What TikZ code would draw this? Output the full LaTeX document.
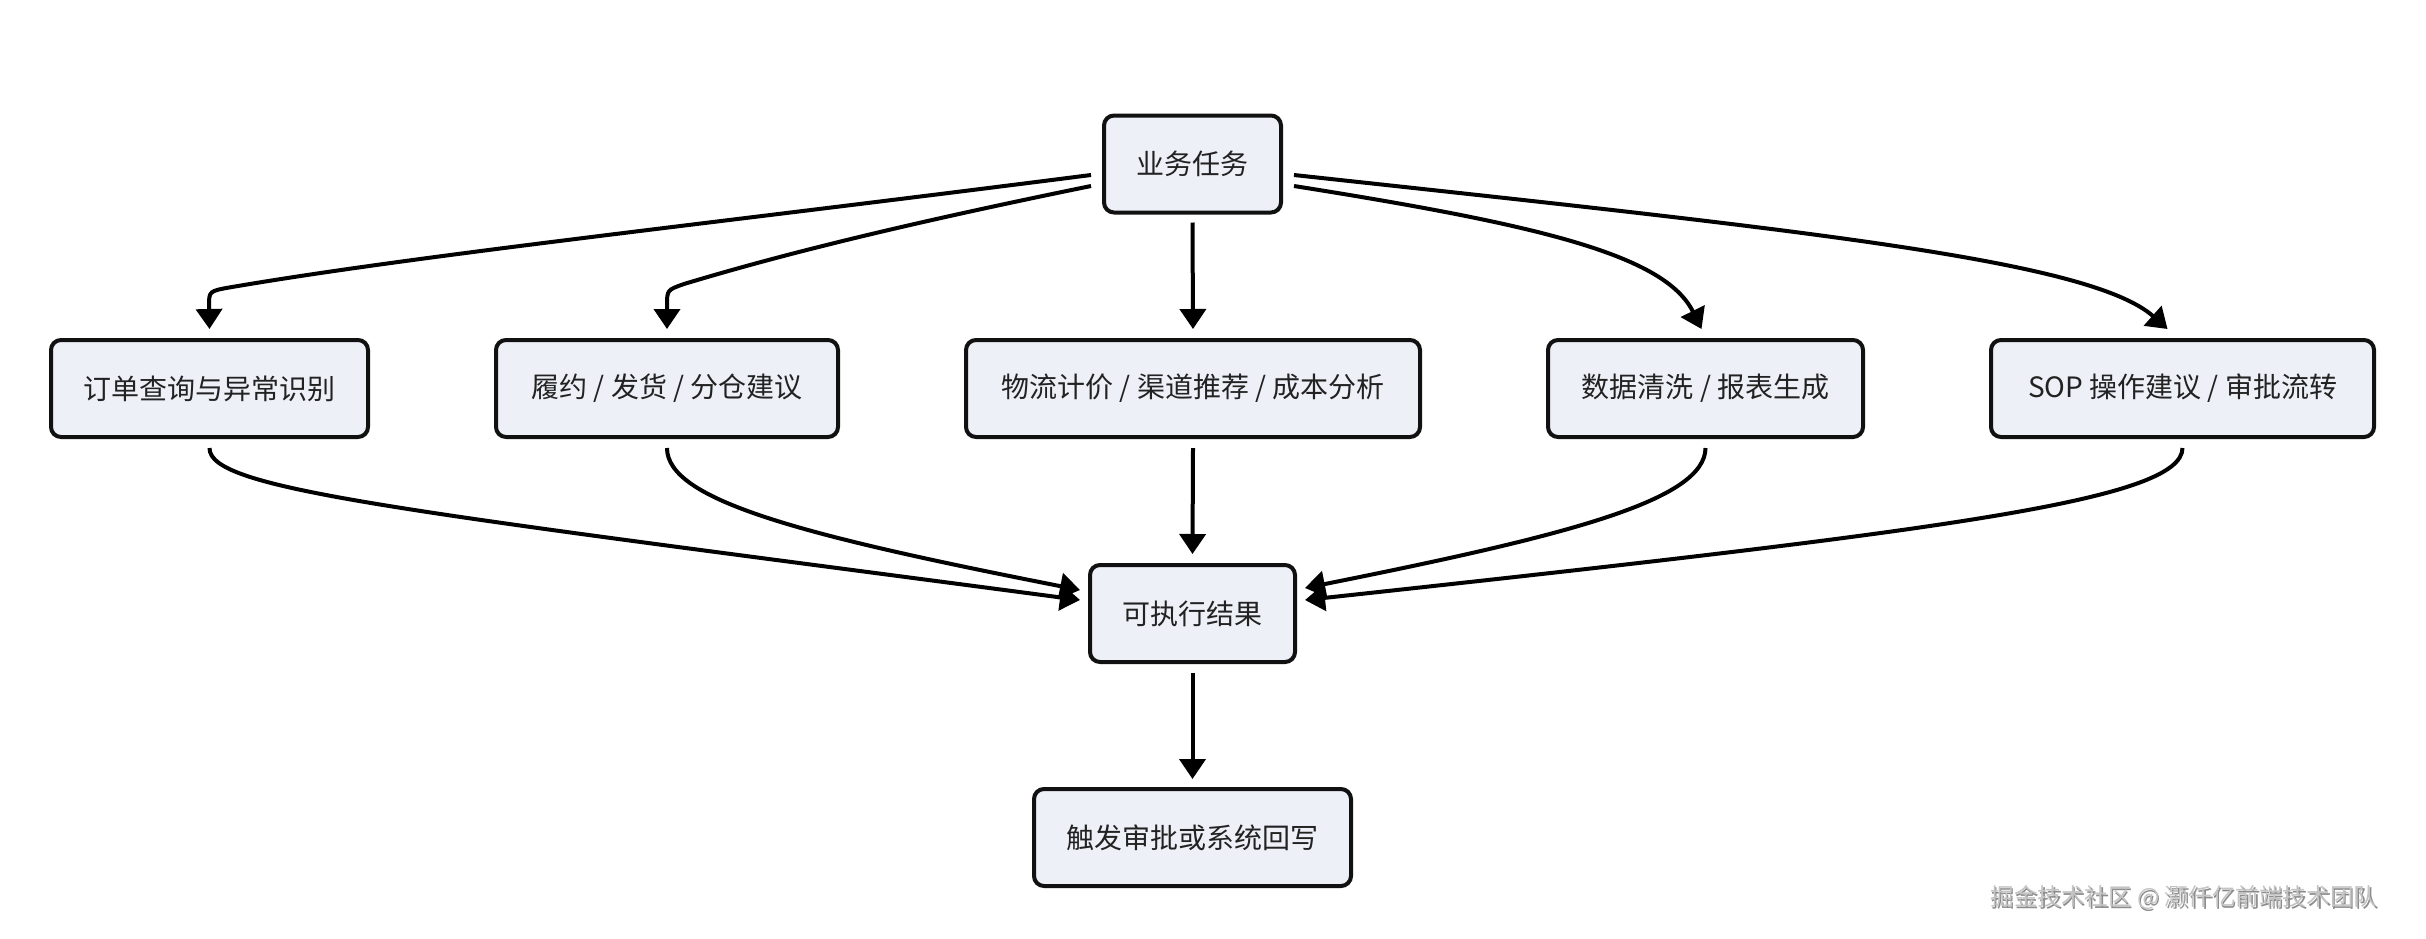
\documentclass[tikz,border=0pt]{standalone}
\usepackage{fontspec}
\setmainfont{Noto Sans CJK SC}
\usetikzlibrary{arrows.meta,calc}
\definecolor{boxfill}{HTML}{EEF0F8}
\definecolor{boxline}{HTML}{111111}
\definecolor{txt}{HTML}{222222}
\definecolor{wmark}{HTML}{C4C4C4}
\definecolor{wshadow}{HTML}{8C8C8C}
\tikzset{
  box/.style={draw=boxline, fill=boxfill, line width=2pt, rounded corners=5pt,
    minimum height=48.5pt, inner sep=0pt, text=txt, font=\fontsize{14pt}{16pt}\selectfont},
  edge/.style={draw=black, line width=2pt, -{Triangle[length=10pt,width=13pt]}},
  wm/.style={font=\fontsize{11.8pt}{13pt}\selectfont, anchor=west, inner sep=0pt}
}
\begin{document}
\begin{tikzpicture}[x=0.5pt,y=-0.5pt]
\useasboundingbox (0,0) rectangle (2426,938);
% nodes
\node[box, minimum width=88.5pt] (top) at (1192.5,164) {业务任务};
\node[box, minimum width=158.5pt] (n1) at (209.5,388.5) {订单查询与异常识别};
\node[box, minimum width=171pt] (n2) at (667,388.5) {履约 / 发货 / 分仓建议};
\node[box, minimum width=227pt] (n3) at (1193,388.5) {物流计价 / 渠道推荐 / 成本分析};
\node[box, minimum width=157.5pt] (n4) at (1705.5,388.5) {数据清洗 / 报表生成};
\node[box, minimum width=191.5pt] (n5) at (2182.5,388.5) {SOP 操作建议 / 审批流转};
\node[box, minimum width=102.5pt] (res) at (1192.5,613.5) {可执行结果};
\node[box, minimum width=158.5pt] (fin) at (1192.5,837.5) {触发审批或系统回写};
% top -> row
\draw[edge] ($(top.west)+(-11,11)$) .. controls (700,225) and (420,255) .. (232,287)
  .. controls (209,291) .. (209,306) -- ($(n1.north)+(0,-9)$);
\draw[edge] ($(top.west)+(-11,22)$) .. controls (900,225) and (780,255) .. (684,284)
  .. controls (667,290) .. (667,306) -- ($(n2.north)+(0,-9)$);
\draw[edge] ($(top.south)+(0,8)$) -- ($(n3.north)+(0,-9)$);
\draw[edge] ($(top.east)+(11,22)$) .. controls (1540,225) and (1665,255) .. ($(n4.north)+(-4,-9)$);
\draw[edge] ($(top.east)+(11,11)$) .. controls (1800,230) and (2090,260) .. ($(n5.north)+(-15,-9)$);
% row -> result
\draw[edge] ($(n1.south)+(0,9)$) .. controls (209,490) and (400,510) .. ($(res.west)+(-8,-13.5)$);
\draw[edge] ($(n2.south)+(0,9)$) .. controls (667,500) and (800,535) .. ($(res.west)+(-8,-23.5)$);
\draw[edge] ($(n3.south)+(0,9)$) -- ($(res.north)+(0,-9)$);
\draw[edge] ($(n4.south)+(0,9)$) .. controls (1705,500) and (1570,535) .. ($(res.east)+(8,-25.5)$);
\draw[edge] ($(n5.south)+(0,9)$) .. controls (2182,500) and (1950,530) .. ($(res.east)+(8,-13.5)$);
% result -> final
\draw[edge] ($(res.south)+(0,9)$) -- ($(fin.north)+(0,-8)$);
% watermark
\node[wm, text=wshadow] (wms) at (1991.5,899.5) {掘金技术社区 @ 灏仟亿前端技术团队};
\node[wm, text=wmark] (wmt) at (1990,898) {掘金技术社区 @ 灏仟亿前端技术团队};
\end{tikzpicture}
\end{document}
